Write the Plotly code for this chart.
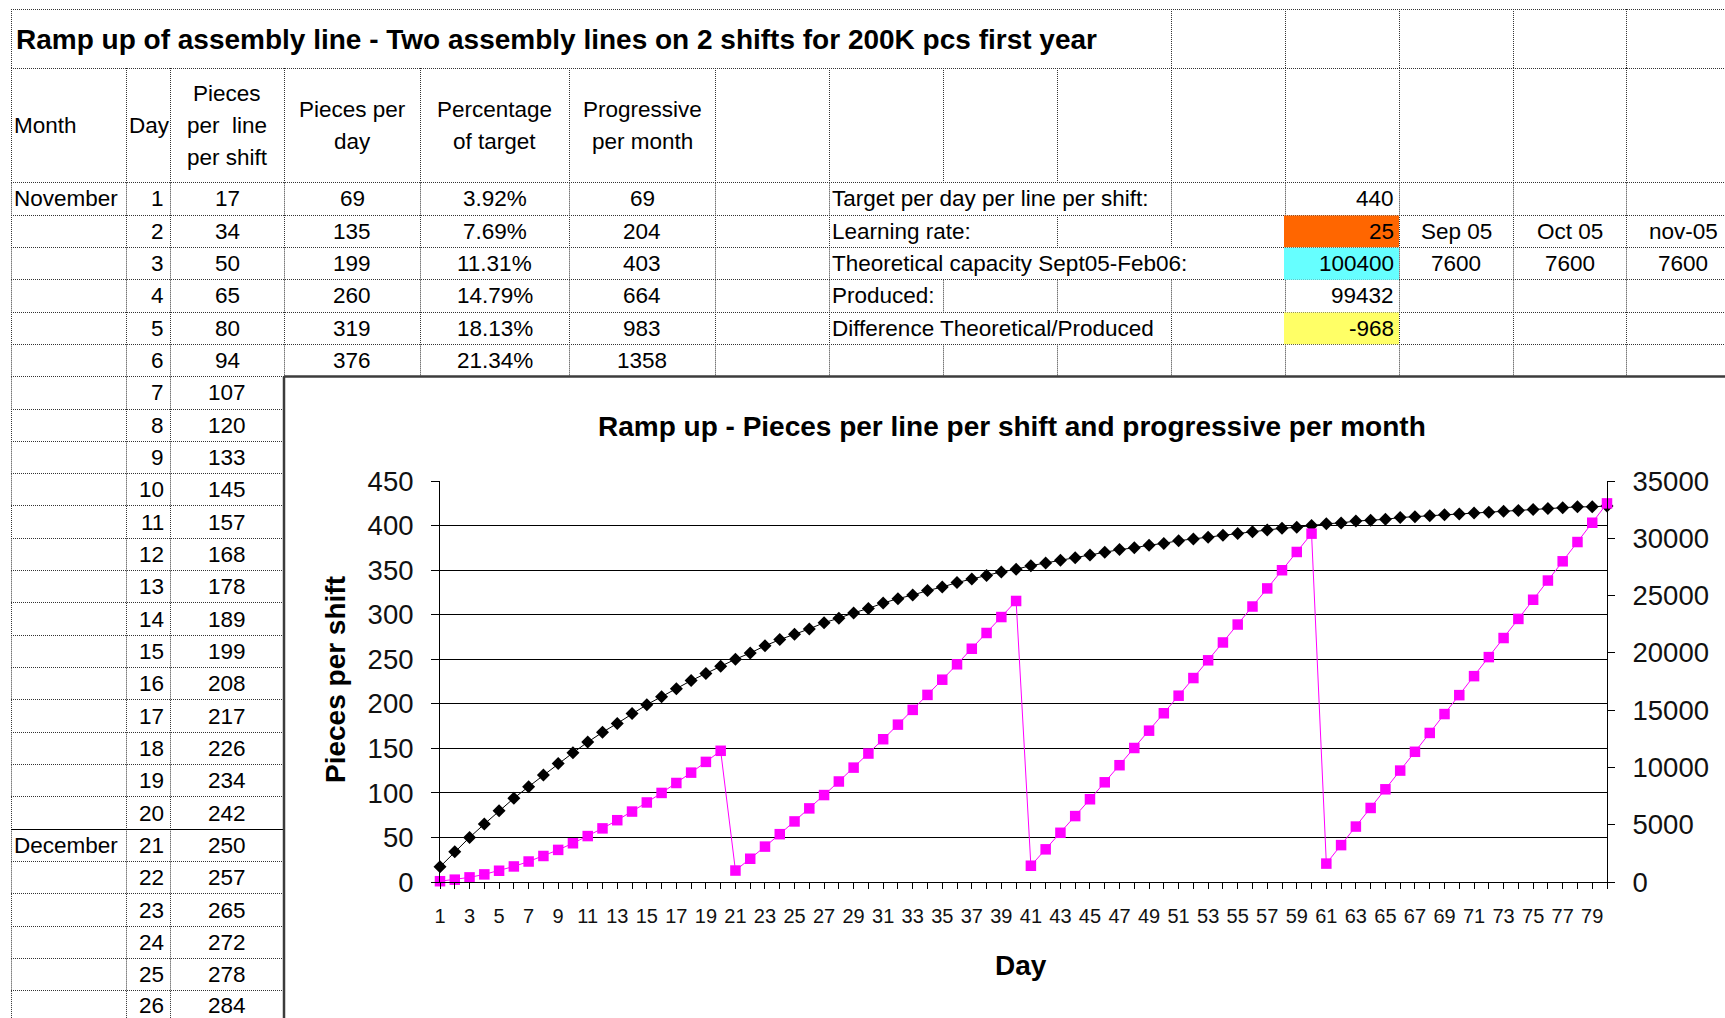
import math
import plotly.graph_objects as go

W, H = 1725, 1018

# ---------------- data ----------------
days = list(range(1, 81))
pieces_per_shift = [
    17, 34, 50, 65, 80, 94, 107, 120, 133, 145,
    157, 168, 178, 189, 199, 208, 217, 226, 234, 242,
    250, 257, 265, 272, 278, 284, 291, 296, 302, 307,
    313, 318, 322, 327, 331, 336, 340, 344, 348, 351,
    355, 358, 361, 364, 367, 370, 373, 375, 378, 380,
    383, 385, 387, 389, 391, 393, 395, 397, 398, 400,
    402, 403, 405, 406, 407, 409, 410, 411, 412, 413,
    414, 415, 416, 417, 418, 419, 420, 421, 421, 422,
]
progressive_per_month = [
    69, 204, 403, 664, 983, 1358, 1788, 2270, 2802, 3382,
    4009, 4680, 5393, 6148, 6942, 7774, 8642, 9546, 10483, 11452,
    1000, 2030, 3089, 4175, 5287, 6425, 7588, 8773, 9982, 11212,
    12462, 13733, 15023, 16331, 17657, 19000, 20359, 21734, 23125, 24529,
    1419, 2851, 4295, 5753, 7222, 8702, 10194, 11696, 13208, 14729,
    16261, 17801, 19349, 20907, 22472, 24044, 25624, 27211, 28805, 30405,
    1607, 3219, 4838, 6462, 8091, 9725, 11365, 13009, 14657, 16310,
    17967, 19629, 21294, 22962, 24635, 26311, 27990, 29672, 31357, 33046,
]
pieces_per_day = [69, 135, 199, 260, 319, 376]
percentage_of_target = [3.92, 7.69, 11.31, 14.79, 18.13, 21.34]
progressive_table = [69, 204, 403, 664, 983, 1358]
month_names = {1: "November", 21: "December"}
visible_rows = 26

param_labels = [
    "Target per day per line per shift:",
    "Learning rate:",
    "Theoretical capacity Sept05-Feb06:",
    "Produced:",
    "Difference Theoretical/Produced",
]
param_values = [440, 25, 100400, 99432, -968]
param_fills = [None, "#FF6600", "#66FFFF", None, "#FFFF66"]
capacity_months = ["Sep 05", "Oct 05", "nov-05"]
capacity_values = [7600, 7600, 7600]

sheet_title = "Ramp up of assembly line - Two assembly lines on 2 shifts for 200K pcs first year"
headers = [
    (["Month"], "left"),
    (["Day"], "left"),
    (["Pieces", "per  line", "per shift"], "center"),
    (["Pieces per", "day"], "center"),
    (["Percentage", "of target"], "center"),
    (["Progressive", "per month"], "center"),
]
chart_title = "Ramp up - Pieces per line per shift and progressive per month"
y1_title = "Pieces per shift"
x_title = "Day"

# ---------------- geometry (pixels) ----------------
FONT = "Liberation Sans, Arial, sans-serif"
CELL_FS = 22.5
TOP, TITLE_BOTTOM, HEAD_BOTTOM, RH = 9, 68, 182.7, 32.33
cols = [11, 126, 170, 284, 420, 569, 715, 829, 943, 1057, 1171, 1285, 1399, 1513, 1626, 1740]
CHART_L, CHART_T = 284, 376.5
PLOT_L, PLOT_R, PLOT_T, PLOT_B = 440, 1607, 481, 882


def cr(v):
    return math.floor(v) + 0.5


def px(x):
    return x / W


def py(y):
    return 1 - y / H


def row_top(k):
    return HEAD_BOTTOM + (k - 1) * RH


def row_mid(k):
    return row_top(k) + RH / 2


shapes = []
DOT = dict(color="#333333", width=1, dash="1px,1px")


def line(x0, y0, x1, y1, style):
    shapes.append(dict(type="line", xref="paper", yref="paper",
                       x0=px(x0), x1=px(x1), y0=py(y0), y1=py(y1),
                       line=style, layer="below"))


# horizontal grid lines
h_lines = [TOP, TITLE_BOTTOM, HEAD_BOTTOM] + [row_top(k + 1) for k in range(1, visible_rows + 1)]
for y in h_lines:
    line(cols[0], cr(y), cols[-1], cr(y), DOT)

# vertical grid lines
title_cols = [11, 1171, 1285, 1399, 1513, 1626]
for x in title_cols:
    line(cr(x), TOP, cr(x), TITLE_BOTTOM, DOT)
for x in cols[:-1]:
    line(cr(x), TITLE_BOTTOM, cr(x), HEAD_BOTTOM, DOT)
hidden = {1: {943, 1057}, 2: {943}, 3: {943, 1057, 1171}, 5: {943, 1057}}
for k in range(1, visible_rows + 1):
    for x in cols[:-1]:
        if k > 6 and x > 170:
            continue
        if x in hidden.get(k, set()):
            continue
        line(cr(x), row_top(k), cr(x), row_top(k + 1), DOT)

# month separator
line(cols[0], cr(row_top(21)), CHART_L, cr(row_top(21)), dict(color="#000", width=1))

# coloured parameter cells
for i, fill in enumerate(param_fills):
    if fill:
        shapes.append(dict(type="rect", xref="paper", yref="paper",
                           x0=px(1284), x1=px(1399), y0=py(row_top(i + 1) + 0.5), y1=py(row_top(i + 2)),
                           fillcolor=fill, line=dict(width=0), layer="below"))

# embedded chart background and border
shapes.append(dict(type="rect", xref="paper", yref="paper",
                   x0=px(CHART_L), x1=px(1760), y0=py(CHART_T), y1=py(1040),
                   fillcolor="white", line=dict(width=0), layer="below"))
BORDER = dict(color="#3c3c3c", width=2.5)
line(CHART_L, CHART_T, 1760, CHART_T, BORDER)
line(CHART_L, CHART_T, CHART_L, 1040, BORDER)

# ---------------- annotations (cell texts) ----------------
ann = []


def text(t, x, y, anchor="left", size=CELL_FS, bold=False, color="#000", angle=0):
    ann.append(dict(text=f"<b>{t}</b>" if bold else t, x=px(x), y=py(y),
                    xref="paper", yref="paper", xanchor=anchor, yanchor="middle",
                    showarrow=False, textangle=angle,
                    font=dict(family=FONT, size=size, color=color)))


text(sheet_title, 14, 40, bold=True, size=28)

head_mid = (TITLE_BOTTOM + HEAD_BOTTOM) / 2
for ci, (lines_, align) in enumerate(headers):
    left, right = cols[ci], cols[ci + 1]
    n = len(lines_)
    for li, t in enumerate(lines_):
        y = head_mid + (li - (n - 1) / 2) * 32
        if align == "left":
            text(t, left + 1, y)
        else:
            text(t, (left + right) / 2, y, anchor="center")

for k in range(1, visible_rows + 1):
    y = row_mid(k) - (1.5 if k == visible_rows else 0)
    if k in month_names:
        text(month_names[k], 12, y)
    text(str(days[k - 1]), 166, y, anchor="right")
    text(str(pieces_per_shift[k - 1]), (170 + 284) / 2, y, anchor="center")
    if k <= 6:
        text(str(pieces_per_day[k - 1]), (284 + 420) / 2, y, anchor="center")
        text(f"{percentage_of_target[k - 1]:.2f}%", (420 + 569) / 2, y, anchor="center")
        text(str(progressive_table[k - 1]), (569 + 715) / 2, y, anchor="center")

for i, (lab, val) in enumerate(zip(param_labels, param_values)):
    y = row_mid(i + 1)
    text(lab, 830, y)
    text(str(val), 1396, y, anchor="right")

for j, (m, v) in enumerate(zip(capacity_months, capacity_values)):
    cx = (cols[12 + j] + cols[13 + j]) / 2
    text(m, cx, row_mid(2), anchor="center")
    text(str(v), cx, row_mid(3), anchor="center")

# chart titles
text(chart_title, 1012, 426, anchor="center", bold=True, size=28)
text(y1_title, 335, 680, anchor="center", bold=True, size=28, angle=-90)
text(x_title, 1021, 965, anchor="center", bold=True, size=28)

# ---------------- chart traces ----------------
fig = go.Figure()
fig.add_trace(go.Scatter(
    x=days, y=pieces_per_shift, mode="lines+markers", name="Pieces per line per shift",
    line=dict(color="#000000", width=1),
    marker=dict(symbol="diamond", size=10, color="#000000"),
    cliponaxis=False, yaxis="y",
))
fig.add_trace(go.Scatter(
    x=days, y=progressive_per_month, mode="lines+markers", name="Progressive per month",
    line=dict(color="#FF00FF", width=1),
    marker=dict(symbol="square", size=10.5, color="#FF00FF"),
    cliponaxis=False, yaxis="y2",
))

tick_text = [str(d) if d % 2 == 1 else "" for d in days]

fig.update_layout(
    width=W, height=H, autosize=False,
    margin=dict(l=0, r=0, t=0, b=0, pad=0, autoexpand=False),
    paper_bgcolor="white", plot_bgcolor="white",
    showlegend=False,
    shapes=shapes, annotations=ann,
    xaxis=dict(
        domain=[px(PLOT_L), px(PLOT_R)], range=[1, 80],
        tickmode="array", tickvals=days, ticktext=tick_text,
        ticks="outside", ticklen=6, tickwidth=1, tickcolor="#000",
        showline=True, linecolor="#000", linewidth=1,
        showgrid=False, zeroline=False,
        tickfont=dict(family=FONT, size=20, color="#111"),
        ticklabelstandoff=10,
    ),
    yaxis=dict(
        domain=[py(PLOT_B), py(PLOT_T)], range=[0, 450],
        tickmode="linear", tick0=0, dtick=50,
        ticks="outside", ticklen=8, tickwidth=1, tickcolor="#000",
        showline=True, linecolor="#000", linewidth=1,
        showgrid=True, gridcolor="#000", gridwidth=1, zeroline=False,
        tickfont=dict(family=FONT, size=27.5, color="#111"),
        ticklabelstandoff=12,
    ),
    yaxis2=dict(
        overlaying="y", side="right", anchor="x", range=[0, 35000],
        tickmode="linear", tick0=0, dtick=5000, tickformat="d",
        ticks="outside", ticklen=7, tickwidth=1, tickcolor="#000",
        showline=True, linecolor="#000", linewidth=1,
        showgrid=False, zeroline=False,
        tickfont=dict(family=FONT, size=27.5, color="#111"),
        ticklabelstandoff=12,
    ),
)

fig.write_html("out.html", config={"displayModeBar": False},
               post_script="document.body.style.margin='0px';")
